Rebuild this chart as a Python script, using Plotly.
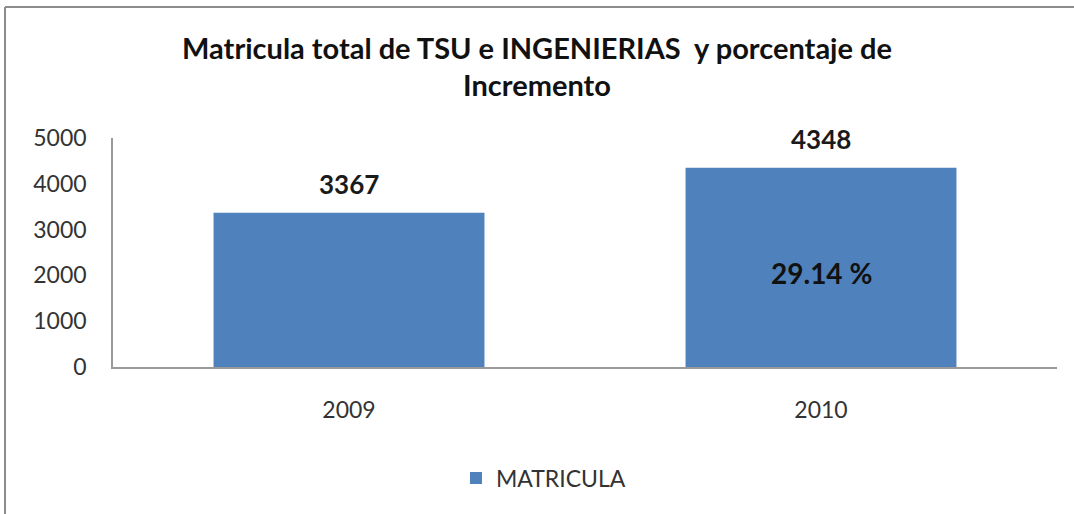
import plotly.graph_objects as go

years = ["2009", "2010"]
matricula = [3367, 4348]
increment_label = "29.14 %"
y_ticks = [0, 1000, 2000, 3000, 4000, 5000]

fig = go.Figure()
fig.add_trace(go.Bar(
    x=years, y=matricula, name="MATRICULA",
    marker=dict(color="#4F81BD", line=dict(width=0)),
    showlegend=True,
))

for i, (yr, v) in enumerate(zip(years, matricula)):
    fig.add_annotation(
        x=i, y=v, xref="x", yref="y", yanchor="bottom", yshift=11,
        text="<b>%d</b>" % v, showarrow=False,
        font=dict(family="Lato", size=26, color="#1a1a1a"),
    )

fig.add_annotation(
    x=years.index("2010"), y=2050, xref="x", yref="y",
    text="<b>" + increment_label + "</b>", showarrow=False,
    font=dict(family="Lato", size=28, color="#111111"),
)

fig.update_layout(
    width=1074, height=514,
    margin=dict(l=113, r=17, t=138, b=147),
    paper_bgcolor="white", plot_bgcolor="white",
    bargap=0.426,
    title=dict(
        text="<b>Matricula total de TSU e INGENIERIAS  y porcentaje de<br>Incremento</b>",
        x=0.5, xanchor="center", y=0.886, yanchor="middle",
        font=dict(family="Lato", size=29, color="#111111"),
    ),
    font=dict(family="Lato", size=23, color="#333333"),
    xaxis=dict(
        type="category", range=[-0.5, 1.5],
        showline=True, linecolor="#9a9a9a", linewidth=1.5,
        showgrid=False, ticks="outside", ticklen=22, tickcolor="rgba(0,0,0,0)",
        tickfont=dict(size=23, color="#333333"),
    ),
    yaxis=dict(
        range=[0, 5000], tickvals=y_ticks,
        showline=True, linecolor="#9a9a9a", linewidth=1.5,
        showgrid=False, zeroline=False, ticks="outside", ticklen=20, tickcolor="rgba(0,0,0,0)",
        tickfont=dict(size=23, color="#333333"),
    ),
    legend=dict(
        orientation="h", x=0.456, xanchor="center", y=-0.485, yanchor="middle",
        font=dict(size=23, color="#333333"),
    ),
    shapes=[
        dict(type="line", xref="paper", yref="paper", x0=-0.1144, x1=1.05, y0=1.572, y1=1.572,
             line=dict(color="#8c8c8c", width=2)),
        dict(type="line", xref="paper", yref="paper", x0=-0.1144, x1=-0.1144, y0=1.572, y1=-0.65,
             line=dict(color="#8c8c8c", width=2)),
    ],
)

fig.write_html("out.html", config={"displayModeBar": False},
               post_script="document.body.style.margin='0';")
